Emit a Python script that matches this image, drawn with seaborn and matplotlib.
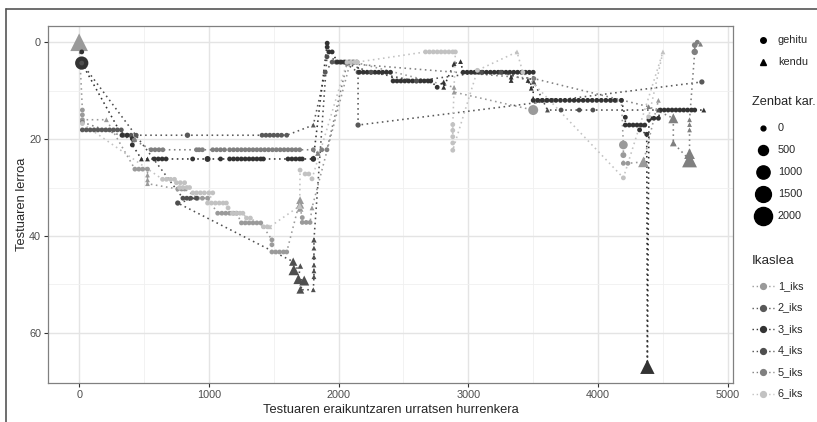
import matplotlib
matplotlib.use('Agg')
import matplotlib.pyplot as plt
from matplotlib.lines import Line2D
import seaborn as sns
import pandas as pd

# one list per student: (step, text line, action g=gehitu k=kendu, chars)
iks1 = [
    (0, 0, 'k', 1900), (25, 14, 'g', 0), (25, 15, 'g', 0), (25, 16, 'g', 0), (210, 16, 'k', 0),
    (430, 26.2, 'g', 0), (460, 26.2, 'g', 0), (490, 26.2, 'g', 0), (527, 26.2, 'g', 0),
    (527, 27.4, 'k', 0), (527, 28.4, 'k', 0), (527, 29.2, 'k', 0),
    (760, 30.3, 'g', 0), (790, 30.3, 'g', 0), (813, 30.3, 'g', 0),
    (913, 32.2, 'g', 0), (950, 32.2, 'g', 0), (990, 32.2, 'g', 0),
    (1068, 35.3, 'g', 0), (1100, 35.3, 'g', 0), (1130, 35.3, 'g', 0), (1160, 35.3, 'g', 0),
    (1190, 35.3, 'g', 0), (1215, 35.3, 'g', 0),
    (1251, 37.3, 'g', 0), (1280, 37.3, 'g', 0), (1310, 37.3, 'g', 0), (1340, 37.3, 'g', 0),
    (1370, 37.3, 'g', 0), (1400, 37.3, 'g', 0),
    (1486, 40.8, 'g', 0), (1486, 41.8, 'g', 0), (1486, 43.3, 'g', 0), (1515, 43.3, 'g', 0),
    (1545, 43.3, 'g', 0), (1575, 43.3, 'g', 0), (1600, 43.3, 'g', 0),
    (1703, 32.6, 'k', 250), (1703, 33.5, 'k', 300), (1703, 34.3, 'k', 150),
    (1720, 36.2, 'g', 0), (1720, 37.2, 'g', 0), (1750, 37.2, 'g', 0), (1780, 37.2, 'g', 0),
    (1795, 34.2, 'k', 0), (2090, 4.1, 'g', 0), (2120, 4.1, 'g', 0),
    (2890, 9.3, 'k', 0), (2890, 10.3, 'k', 0), (3500, 14, 'g', 500),
    (3530, 12, 'g', 0), (3570, 12, 'g', 0), (3610, 12, 'g', 0), (3650, 12, 'g', 0),
    (4100, 12, 'g', 0), (4140, 12, 'g', 0), (4180, 12, 'g', 0),
    (4195, 21.2, 'g', 350), (4195, 23.3, 'g', 80), (4195, 25, 'g', 0), (4230, 25, 'g', 0),
    (4350, 24.7, 'k', 600), (4465, 12, 'k', 0),
]
iks2 = [
    (25, 18.1, 'g', 0), (55, 18.1, 'g', 0), (85, 18.1, 'g', 0), (115, 18.1, 'g', 0),
    (145, 18.1, 'g', 0), (175, 18.1, 'g', 0), (205, 18.1, 'g', 0), (235, 18.1, 'g', 0),
    (265, 18.1, 'g', 0), (295, 18.1, 'g', 0), (325, 18.1, 'g', 0),
    (340, 19.2, 'g', 0), (370, 19.2, 'g', 0), (400, 19.2, 'g', 0), (440, 19.2, 'g', 0),
    (835, 19.2, 'g', 40),
    (1410, 19.2, 'g', 0), (1440, 19.2, 'g', 0), (1470, 19.2, 'g', 0), (1500, 19.2, 'g', 0),
    (1530, 19.2, 'g', 0), (1560, 19.2, 'g', 0), (1600, 19.2, 'g', 0),
    (1805, 17.1, 'k', 0), (1897, 6.2, 'g', 0),
    (1950, 4.1, 'g', 0), (1980, 4.1, 'g', 0), (2010, 4.1, 'g', 0), (2040, 4.1, 'g', 0),
    (2150, 6.2, 'g', 0), (2150, 17.1, 'g', 30), (4800, 8.2, 'g', 30),
]
iks3 = [
    (20, 2, 'g', 0), (20, 4.3, 'g', 1000),
    (330, 19.2, 'g', 0), (370, 19.2, 'g', 0), (410, 19.9, 'g', 0), (410, 21.2, 'g', 0),
    (480, 24.1, 'k', 0), (527, 24.1, 'k', 0),
    (580, 24.1, 'g', 0), (610, 24.1, 'g', 0), (640, 24.1, 'g', 0), (670, 24.1, 'g', 0),
    (875, 24.1, 'g', 0), (990, 24.1, 'g', 80), (1090, 24.1, 'g', 0),
    (1160, 24.1, 'g', 0), (1190, 24.1, 'g', 0), (1220, 24.1, 'g', 0), (1250, 24.1, 'g', 0),
    (1280, 24.1, 'g', 0), (1310, 24.1, 'g', 0), (1340, 24.1, 'g', 0), (1370, 24.1, 'g', 0),
    (1400, 24.1, 'g', 0), (1420, 24.1, 'g', 0),
    (1610, 24.1, 'g', 0), (1640, 24.1, 'g', 0), (1670, 24.1, 'g', 0), (1700, 24.1, 'g', 0),
    (1720, 24.1, 'g', 0), (1805, 24.1, 'g', 60),
    (1912, 0.2, 'g', 0), (1912, 1.0, 'g', 0), (1925, 2, 'g', 0), (1950, 2, 'g', 0),
    (1990, 4.1, 'g', 0), (2020, 4.1, 'g', 0), (2050, 4.1, 'g', 0), (2080, 4.1, 'g', 0),
    (2110, 4.1, 'g', 0), (2140, 4.1, 'g', 0),
    (2160, 6.2, 'g', 0), (2190, 6.2, 'g', 0), (2220, 6.2, 'g', 0), (2250, 6.2, 'g', 0),
    (2280, 6.2, 'g', 0), (2310, 6.2, 'g', 0), (2340, 6.2, 'g', 0), (2370, 6.2, 'g', 0),
    (2400, 6.2, 'g', 0),
    (2420, 8, 'g', 0), (2450, 8, 'g', 0), (2480, 8, 'g', 0), (2510, 8, 'g', 0), (2540, 8, 'g', 0),
    (2570, 8, 'g', 0), (2600, 8, 'g', 0), (2630, 8, 'g', 0), (2660, 8, 'g', 0), (2690, 8, 'g', 0),
    (2710, 8, 'g', 0), (2760, 9.3, 'g', 0), (2810, 8.2, 'k', 0), (2810, 9.3, 'k', 0),
    (2890, 4.4, 'k', 0), (2940, 4.0, 'k', 0),
    (2960, 6.2, 'g', 0), (2990, 6.2, 'g', 0), (3020, 6.2, 'g', 0), (3050, 6.2, 'g', 0),
    (3080, 6.2, 'g', 0), (3110, 6.2, 'g', 0), (3140, 6.2, 'g', 0), (3170, 6.2, 'g', 0),
    (3200, 6.2, 'g', 0), (3230, 6.2, 'g', 0), (3260, 6.2, 'g', 0), (3290, 6.2, 'g', 0),
    (3320, 6.2, 'g', 0), (3330, 7.2, 'k', 0), (3330, 7.9, 'k', 0), (3350, 6.2, 'g', 0),
    (3380, 6.2, 'g', 0), (3410, 6.2, 'g', 0), (3440, 6.2, 'g', 0), (3460, 7.9, 'k', 0),
    (3485, 9.5, 'k', 0), (3470, 6.2, 'g', 0), (3500, 6.2, 'g', 0),
    (3500, 12, 'g', 0), (3535, 12, 'g', 0), (3570, 12, 'g', 0), (3605, 12, 'g', 0),
    (3640, 12, 'g', 0), (3675, 12, 'g', 0), (3710, 12, 'g', 0), (3745, 12, 'g', 0),
    (3780, 12, 'g', 0), (3815, 12, 'g', 0), (3850, 12, 'g', 0), (3885, 12, 'g', 0),
    (3920, 12, 'g', 0), (3955, 12, 'g', 0), (3990, 12, 'g', 0), (4025, 12, 'g', 0),
    (4060, 12, 'g', 0), (4095, 12, 'g', 0), (4130, 12, 'g', 0), (4180, 12, 'g', 0),
    (4210, 15.5, 'g', 0), (4210, 17.1, 'g', 0), (4240, 17.1, 'g', 0), (4270, 17.1, 'g', 0),
    (4300, 17.1, 'g', 0), (4330, 17.1, 'g', 0), (4360, 17.1, 'g', 0), (4320, 18.1, 'g', 0),
    (4375, 19, 'g', 0), (4380, 67, 'k', 1200), (4392, 16, 'g', 0),
    (4400, 15.7, 'g', 0), (4430, 15.7, 'g', 0), (4465, 15.7, 'g', 0),
    (4480, 14, 'g', 0), (4510, 14, 'g', 0), (4540, 14, 'g', 0), (4570, 14, 'g', 0),
    (4600, 14, 'g', 0), (4630, 14, 'g', 0), (4660, 14, 'g', 0), (4690, 14, 'g', 0),
    (4720, 14, 'g', 0), (4745, 14, 'g', 0), (4815, 14, 'k', 0),
]
iks4 = [
    (20, 4.3, 'g', 0),
    (800, 32.2, 'g', 0), (830, 32.2, 'g', 0), (860, 32.2, 'g', 0), (905, 32.2, 'g', 0),
    (760, 33.2, 'g', 30),
    (1650, 45.3, 'k', 300), (1655, 47, 'k', 600), (1705, 46.2, 'k', 50), (1690, 48.9, 'k', 500),
    (1735, 49.2, 'k', 500), (1705, 51.1, 'k', 250), (1805, 51.1, 'k', 0),
    (1810, 48.4, 'k', 0), (1810, 47.2, 'k', 0), (1810, 46, 'k', 0), (1810, 44.3, 'k', 0),
    (1810, 42.5, 'k', 0), (1810, 40.8, 'k', 40),
    (1910, 3, 'g', 0), (2250, 6.2, 'g', 0), (2600, 8, 'g', 0), (3100, 6.2, 'g', 0),
    (3250, 6.2, 'g', 0), (3505, 8.2, 'k', 0),
    (3610, 14, 'k', 0), (3715, 14, 'g', 0), (3855, 14, 'g', 0), (3960, 14, 'g', 0),
    (4465, 14, 'k', 0),
]
iks5 = [
    (25, 16.5, 'g', 0), (425, 20.2, 'g', 0),
    (555, 22.2, 'g', 0), (585, 22.2, 'g', 0), (615, 22.2, 'g', 0), (645, 22.2, 'g', 0),
    (905, 22.2, 'g', 0), (925, 22.2, 'g', 0), (950, 22.2, 'g', 0),
    (1030, 22.2, 'g', 0), (1060, 22.2, 'g', 0), (1090, 22.2, 'g', 0), (1120, 22.2, 'g', 0),
    (1160, 22.2, 'g', 0), (1190, 22.2, 'g', 0), (1220, 22.2, 'g', 0), (1250, 22.2, 'g', 0),
    (1280, 22.2, 'g', 0), (1310, 22.2, 'g', 0), (1340, 22.2, 'g', 0), (1370, 22.2, 'g', 0),
    (1400, 22.2, 'g', 0), (1430, 22.2, 'g', 0), (1460, 22.2, 'g', 0), (1490, 22.2, 'g', 0),
    (1520, 22.2, 'g', 0), (1550, 22.2, 'g', 0),
    (1580, 22.2, 'g', 0), (1610, 22.2, 'g', 0), (1640, 22.2, 'g', 0), (1670, 22.2, 'g', 0),
    (1700, 22.2, 'g', 0), (1805, 22.2, 'g', 0), (1840, 22.9, 'k', 40), (1870, 22.2, 'g', 0),
    (1910, 22.2, 'g', 0), (2065, 4.4, 'g', 0), (3505, 7.5, 'g', 0), (4390, 13.3, 'k', 0),
    (4580, 15.7, 'k', 500), (4580, 20.8, 'k', 150),
    (4705, 24.3, 'k', 1300), (4705, 23, 'k', 600), (4705, 18.1, 'k', 0), (4705, 17, 'k', 0),
    (4705, 16, 'k', 0), (4745, 2, 'g', 120), (4745, 0.6, 'g', 60), (4765, 0, 'g', 0),
    (4790, 0.4, 'k', 0),
]
iks6 = [
    (25, 16.8, 'g', 0),
    (643, 28.3, 'g', 0), (673, 28.3, 'g', 0), (705, 28.3, 'g', 0), (735, 28.3, 'g', 0),
    (750, 29, 'g', 0), (780, 29, 'g', 0), (813, 29, 'g', 0),
    (774, 30, 'g', 0), (800, 30, 'g', 0), (830, 30, 'g', 0), (851, 30, 'g', 0),
    (877, 31.1, 'g', 0), (905, 31.1, 'g', 0), (935, 31.1, 'g', 0), (965, 31.1, 'g', 0),
    (1000, 31.1, 'g', 0), (1030, 31.1, 'g', 0),
    (990, 33.2, 'g', 0), (1020, 33.2, 'g', 0), (1050, 33.2, 'g', 0), (1080, 33.2, 'g', 0),
    (1110, 33.2, 'g', 0), (1135, 33.2, 'g', 0), (1148, 34.2, 'g', 0),
    (1180, 35.3, 'g', 0), (1210, 35.3, 'g', 0), (1240, 35.3, 'g', 0), (1262, 35.3, 'g', 0),
    (1290, 36.3, 'g', 0), (1320, 36.3, 'g', 0),
    (1420, 38.1, 'g', 0), (1450, 38.1, 'g', 0), (1470, 38.1, 'k', 0),
    (1700, 33.8, 'k', 100),
    (1703, 26.4, 'g', 0), (1742, 27.2, 'g', 0), (1770, 27.2, 'g', 0), (1795, 28.2, 'g', 0),
    (2065, 4.1, 'g', 0), (2095, 4.1, 'g', 0), (2125, 4.1, 'g', 0), (2145, 4.1, 'g', 0),
    (2670, 2, 'g', 0), (2700, 2, 'g', 0), (2730, 2, 'g', 0), (2760, 2, 'g', 0),
    (2790, 2, 'g', 0), (2820, 2, 'g', 0), (2850, 2, 'g', 0), (2880, 2, 'g', 0), (2900, 2, 'g', 0),
    (2880, 17, 'g', 0), (2880, 18.2, 'g', 0), (2880, 19.5, 'g', 0), (2880, 20.8, 'g', 0),
    (2880, 22.3, 'g', 0), (3070, 5.8, 'g', 0), (3375, 2, 'k', 0), (3420, 6.2, 'g', 0),
    (4195, 28, 'g', 0), (4500, 2, 'k', 0), (4390, 15.4, 'g', 0),
]

students = ['1_iks', '2_iks', '3_iks', '4_iks', '5_iks', '6_iks']
greys = ['#9a9a9a', '#595959', '#333333', '#4f4f4f', '#808080', '#c2c2c2']
actions = ['gehitu', 'kendu']
kar_breaks = [0, 500, 1000, 1500, 2000]

rows = []
for name, pts in zip(students, [iks1, iks2, iks3, iks4, iks5, iks6]):
    for x, y, a, k in pts:
        rows.append({'urratsa': x, 'lerroa': y, 'ekintza': 'gehitu' if a == 'g' else 'kendu',
                     'kar': k, 'ikaslea': name})
df = pd.DataFrame(rows)

sns.set_theme(style='whitegrid')
plt.rcParams['font.family'] = ['Liberation Sans', 'DejaVu Sans']

W, H = 817, 422
fig = plt.figure(figsize=(W / 100, H / 100), dpi=100)
ax = fig.add_axes([48 / W, 1 - 383 / H, 685 / W, 357 / H])

pal = dict(zip(students, greys))
size_range = (12, 170)

# dotted paths
sns.lineplot(data=df, x='urratsa', y='lerroa', hue='ikaslea', palette=pal, sort=False,
             estimator=None, legend=False, lw=1.15, linestyle=(0, (1, 2.2)), ax=ax, zorder=2)
sns.scatterplot(data=df, x='urratsa', y='lerroa', hue='ikaslea', palette=pal,
                style='ekintza', markers={'gehitu': 'o', 'kendu': '^'},
                size='kar', sizes=size_range, size_norm=(0, 2000),
                linewidth=0, legend=False, ax=ax, zorder=3)

ax.set_xlim(-240, 5040)
ax.set_ylim(70.35, -3.35)
ax.set_xticks([0, 1000, 2000, 3000, 4000, 5000])
ax.set_xticks([500, 1500, 2500, 3500, 4500], minor=True)
ax.set_yticks([0, 20, 40, 60])
ax.set_yticks([10, 30, 50], minor=True)
ax.grid(which='major', color='#e4e4e4', lw=1.0)
ax.grid(which='minor', color='#f0f0f0', lw=0.6)
ax.tick_params(which='major', bottom=True, left=True, length=3, width=0.8, color='#333333',
               labelsize=7.8, labelcolor='#4d4d4d', pad=2)
ax.tick_params(which='minor', length=0)
for s in ax.spines.values():
    s.set_color('#808080')
    s.set_linewidth(0.9)
ax.set_xlabel('Testuaren eraikuntzaren urratsen hurrenkera', fontsize=9.3, labelpad=3)
ax.set_ylabel('Testuaren lerroa', fontsize=9.3, labelpad=1)

# outer frame (top and left edges visible)
fig.add_artist(Line2D([6 / W, 6 / W], [0, 1 - 9 / H], transform=fig.transFigure, color='#555555', lw=1.2))
fig.add_artist(Line2D([6 / W, 1], [1 - 9 / H, 1 - 9 / H], transform=fig.transFigure, color='#555555', lw=1.2))


def fx(px):
    return px / W


def fy(py):
    return 1 - py / H


# shape legend
for act, mk, py in zip(actions, ['o', '^'], [40, 62]):
    fig.add_artist(Line2D([fx(763)], [fy(py)], marker=mk, color='black', markersize=4,
                          linestyle='none', transform=fig.transFigure))
    fig.text(fx(778), fy(py), act, fontsize=7.8, va='center')

# size legend
fig.text(fx(752), fy(102), 'Zenbat kar.', fontsize=9.2, va='center')
for i, k in enumerate(kar_breaks):
    py = 128 + 22 * i
    s = size_range[0] + (size_range[1] - size_range[0]) * k / 2000
    fig.add_artist(Line2D([fx(763)], [fy(py)], marker='o', color='black', markersize=s ** 0.5,
                          linestyle='none', transform=fig.transFigure))
    fig.text(fx(778), fy(py), str(k), fontsize=7.8, va='center')

# student legend
fig.text(fx(752), fy(261), 'Ikaslea', fontsize=9.6, va='center')
for i, (name, c) in enumerate(zip(students, greys)):
    py = 286 + 21.5 * i
    fig.add_artist(Line2D([fx(752), fx(774)], [fy(py), fy(py)], color=c, lw=1,
                          linestyle=(0, (1, 2)), transform=fig.transFigure))
    fig.add_artist(Line2D([fx(763)], [fy(py)], marker='o', color=c, markersize=4.2,
                          linestyle='none', transform=fig.transFigure))
    fig.text(fx(778), fy(py), name, fontsize=7.8, va='center')

fig.savefig('out.png', dpi=100)
